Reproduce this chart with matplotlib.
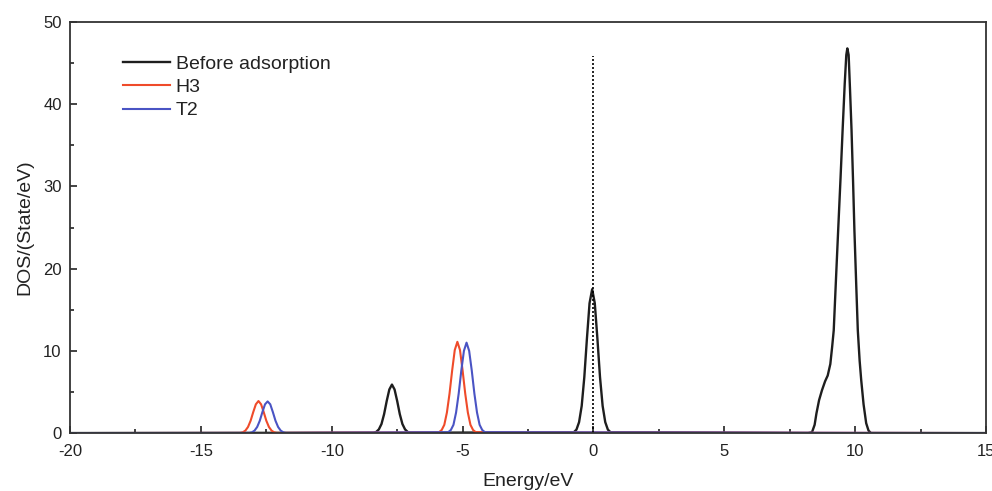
import matplotlib.pyplot as plt
import matplotlib as mpl
from matplotlib.ticker import MultipleLocator

mpl.use('Agg')
plt.rcParams['font.family'] = ['Liberation Sans', 'DejaVu Sans']
plt.rcParams['axes.unicode_minus'] = False

# Before adsorption (black)
before_x = [-20, -8.4, -8.3, -8.2, -8.1, -8.0, -7.9, -7.8, -7.7, -7.6, -7.5, -7.4, -7.3, -7.2, -7.1, -7.0,
            -0.75, -0.65, -0.55, -0.45, -0.35, -0.25, -0.15, -0.05, 0.05, 0.15, 0.25, 0.35, 0.45, 0.55, 0.65,
            8.2, 8.35, 8.45, 8.52, 8.62, 8.73, 8.85, 8.95, 9.05, 9.12, 9.18, 9.27, 9.35, 9.44, 9.52, 9.6,
            9.66, 9.70, 9.75, 9.80, 9.86, 9.92, 9.97, 10.04, 10.10, 10.17, 10.23, 10.32, 10.42, 10.51, 10.6, 15]
before_y = [0, 0.04, 0.14, 0.45, 1.1, 2.3, 3.9, 5.3, 5.9, 5.3, 3.9, 2.3, 1.1, 0.45, 0.14, 0.04,
            0.1, 0.42, 1.33, 3.3, 6.8, 11.5, 15.8, 17.5, 15.8, 11.5, 6.8, 3.3, 1.33, 0.42, 0.1,
            0, 0.1, 1.0, 2.4, 4.0, 5.2, 6.3, 7.0, 8.4, 10.5, 12.5, 19.0, 24.7, 31.0, 36.9, 42.5,
            46.0, 46.8, 46.0, 42.0, 36.9, 30.5, 24.7, 18.0, 12.5, 8.8, 6.45, 3.5, 1.2, 0.3, 0, 0]

# H3 (red)
h3_x = [-20, -13.5, -13.4, -13.3, -13.2, -13.1, -13.0, -12.9, -12.8, -12.7, -12.6, -12.5, -12.4, -12.3, -12.2, -12.1,
        -5.9, -5.8, -5.7, -5.6, -5.5, -5.4, -5.3, -5.2, -5.1, -5.0, -4.9, -4.8, -4.7, -4.6, -4.5, 15]
h3_y = [0, 0.02, 0.09, 0.30, 0.74, 1.5, 2.55, 3.5, 3.9, 3.5, 2.55, 1.5, 0.74, 0.30, 0.09, 0.02,
        0.11, 0.37, 1.0, 2.5, 4.8, 7.6, 10.1, 11.1, 10.1, 7.6, 4.8, 2.5, 1.0, 0.37, 0.11, 0]

# T2 (blue)
t2_x = [-20, -13.15, -13.05, -12.95, -12.85, -12.75, -12.65, -12.55, -12.45, -12.35, -12.25, -12.15, -12.05, -11.95,
        -11.85, -11.75,
        -5.55, -5.45, -5.35, -5.25, -5.15, -5.05, -4.95, -4.85, -4.75, -4.65, -4.55, -4.45, -4.35, -4.25, -4.15, 15]
t2_y = [0, 0.02, 0.09, 0.30, 0.74, 1.5, 2.55, 3.5, 3.85, 3.5, 2.55, 1.5, 0.74, 0.30, 0.09, 0.02,
        0.11, 0.37, 1.0, 2.5, 4.8, 7.6, 10.0, 11.0, 10.0, 7.6, 4.8, 2.5, 1.0, 0.37, 0.11, 0]

fermi_top = 45.9

fig = plt.figure(figsize=(9.92, 4.91), dpi=100)
ax = fig.add_axes([0.0706, 0.118, 0.9234, 0.837])

ax.plot(before_x, before_y, color='#1e1e1e', linewidth=1.7, label='Before adsorption')
ax.plot(h3_x, h3_y, color='#ef4b2a', linewidth=1.5, label='H3')
ax.plot(t2_x, t2_y, color='#4a54c4', linewidth=1.5, label='T2')
ax.plot([0, 0], [0, fermi_top], color='black', linestyle=(0, (1.2, 1.2)), linewidth=1.2)

ax.set_xlim(-20, 15)
ax.set_ylim(0, 50)
ax.xaxis.set_major_locator(MultipleLocator(5))
ax.xaxis.set_minor_locator(MultipleLocator(2.5))
ax.yaxis.set_major_locator(MultipleLocator(10))
ax.yaxis.set_minor_locator(MultipleLocator(5))
ax.tick_params(which='both', direction='in', labelsize=12, width=1.2, pad=6, colors='#222222')
ax.tick_params(axis='x', which='both', pad=8)
ax.tick_params(which='major', length=5)
ax.tick_params(which='minor', length=3)
for s in ax.spines.values():
    s.set_linewidth(1.3)
    s.set_color('#333333')

ax.set_xlabel('Energy/eV', fontsize=14, labelpad=10, color='#222222')
ax.set_ylabel('DOS/(State/eV)', fontsize=14, labelpad=7, color='#222222')

leg = ax.legend(loc='upper left', bbox_to_anchor=(0.058, 0.92), frameon=False, fontsize=14,
                handlelength=2.4, handletextpad=0.3, labelspacing=0.3, borderaxespad=0, borderpad=0)
for t in leg.get_texts():
    t.set_color('#222222')

fig.savefig('out.png', dpi=100)
